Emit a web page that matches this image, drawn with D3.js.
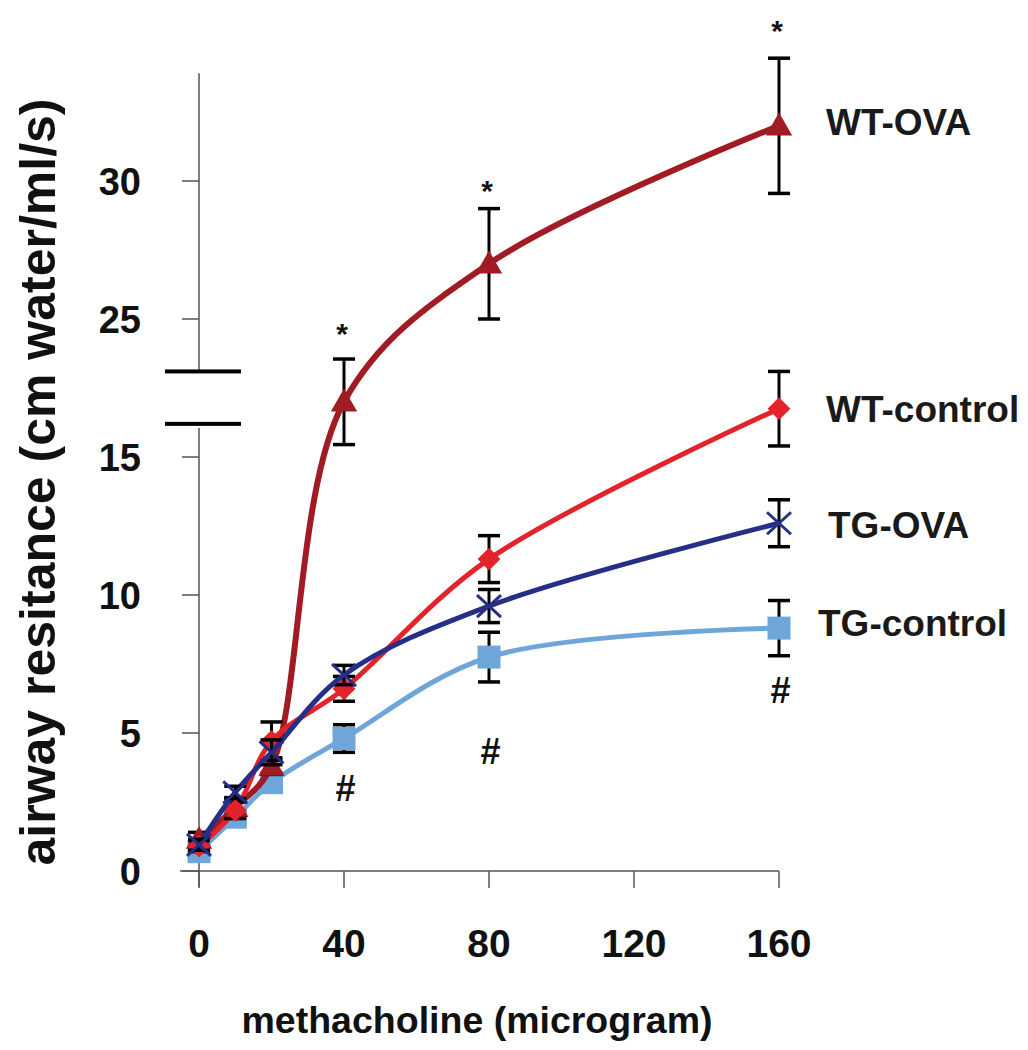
<!DOCTYPE html>
<html>
<head>
<meta charset="utf-8">
<script src="https://cdn.jsdelivr.net/npm/d3@7"></script>
<style>
  html, body { margin: 0; padding: 0; background: #fff; }
  svg { display: block; font-family: "Liberation Sans", Arial, Helvetica, sans-serif; }
</style>
</head>
<body>
<svg id="chart" width="1028" height="1050"></svg>
<script>
// ---- data ----
const doses = [0, 10, 20, 40, 80, 160];
const xTicks = [0, 40, 80, 120, 160];
// y-axis is broken: values above the break are drawn 5 units lower
const yTickValues = [0, 5, 10, 15, 25, 30];
const yTickLabels = ["0", "5", "10", "15", "25", "30"];
const breakGap = 5;          // units hidden by the axis break
const breakAt = 20;          // values at/above this sit above the break
const breakMarks = [16.2, 18.1]; // plotted-unit positions of the break bars

const seriesNames = ["TG-control", "WT-OVA", "WT-control", "TG-OVA"];
const tgControlMean = [0.7, 1.95, 3.2, 4.8, 7.75, 8.8];
const tgControlErr  = [0.15, 0.2, 0.2, 0.5, 0.9, 1.0];
const wtOvaMean     = [1.15, 2.3, 3.8, 22.0, 27.0, 32.0];
const wtOvaErr      = [0.25, 0.36, 0.3, 1.55, 2.0, 2.45];
const wtControlMean = [0.9, 2.2, 4.7, 6.6, 11.3, 16.75];
const wtControlErr  = [0.2, 0.3, 0.7, 0.45, 0.85, 1.35];
const tgOvaMean     = [0.95, 2.85, 4.3, 7.1, 9.6, 12.6];
const tgOvaErr      = [0.2, 0.22, 0.45, 0.35, 0.6, 0.85];

const starDoses = [40, 80, 160];
const starValues = [24.9, 30.1, 35.9];
const hashDoses = [40, 80, 160];
const hashValues = [3.0, 4.35, 6.55];

// ---- layout ----
const svg = d3.select("#chart");
const x = d3.scaleLinear().domain([0, 160]).range([199, 779]);
const y = d3.scaleLinear().domain([0, 25]).range([871, 181]); // plotted units
const plotted = v => (v >= breakAt ? v - breakGap : v);
const Y = v => y(plotted(v));

const colors = {
  "TG-control": "#6fa6da",
  "WT-OVA": "#a11b22",
  "WT-control": "#e3232b",
  "TG-OVA": "#262f86"
};
const widths = { "TG-control": 5, "WT-OVA": 6, "WT-control": 5, "TG-OVA": 5 };
const means = { "TG-control": tgControlMean, "WT-OVA": wtOvaMean, "WT-control": wtControlMean, "TG-OVA": tgOvaMean };
const errs = { "TG-control": tgControlErr, "WT-OVA": wtOvaErr, "WT-control": wtControlErr, "TG-OVA": tgOvaErr };

const axisColor = "#555";

// ---- y axis (broken) ----
const gy = svg.append("g");
const yTop = y(28.9);
gy.append("line").attr("x1", x(0)).attr("x2", x(0)).attr("y1", yTop).attr("y2", y(breakMarks[1]))
  .attr("stroke", axisColor).attr("stroke-width", 1.5);
gy.append("line").attr("x1", x(0)).attr("x2", x(0)).attr("y1", y(breakMarks[0]) + 4).attr("y2", y(0) + 16)
  .attr("stroke", axisColor).attr("stroke-width", 1.5);
gy.selectAll("line.tick").data(yTickValues).join("line")
  .attr("class", "tick")
  .attr("x1", x(0) - 17).attr("x2", x(0))
  .attr("y1", d => Y(d)).attr("y2", d => Y(d))
  .attr("stroke", axisColor).attr("stroke-width", 1.5);
gy.selectAll("text").data(yTickValues).join("text")
  .attr("x", 141).attr("y", d => Y(d))
  .attr("dy", "0.36em")
  .attr("text-anchor", "end")
  .attr("font-size", 38).attr("font-weight", "bold").attr("fill", "#111")
  .text((d, i) => yTickLabels[i]);
gy.selectAll("rect.brk").data(breakMarks).join("rect")
  .attr("class", "brk")
  .attr("x", x(0) - 34).attr("width", 76)
  .attr("y", d => y(d) - 2).attr("height", 4)
  .attr("fill", "#000");

// ---- x axis ----
const gx = svg.append("g");
gx.append("line").attr("x1", x(0) - 19).attr("x2", x(160)).attr("y1", y(0)).attr("y2", y(0))
  .attr("stroke", axisColor).attr("stroke-width", 1.5);
gx.selectAll("line.tick").data(xTicks).join("line")
  .attr("class", "tick")
  .attr("x1", d => x(d)).attr("x2", d => x(d))
  .attr("y1", y(0)).attr("y2", y(0) + 17)
  .attr("stroke", axisColor).attr("stroke-width", 1.5);
gx.selectAll("text").data(xTicks).join("text")
  .attr("x", d => x(d)).attr("y", 957)
  .attr("text-anchor", "middle")
  .attr("font-size", 39).attr("font-weight", "bold").attr("fill", "#111")
  .text(d => d);

// ---- titles ----
svg.append("text")
  .attr("x", 477).attr("y", 1033)
  .attr("text-anchor", "middle")
  .attr("font-size", 37.5).attr("font-weight", "bold").attr("fill", "#111")
  .text("methacholine (microgram)");
svg.append("text")
  .attr("transform", "translate(55,482) rotate(-90)")
  .attr("text-anchor", "middle")
  .attr("font-size", 50).attr("font-weight", "bold").attr("fill", "#111")
  .text("airway resitance (cm water/ml/s)");

// ---- series ----
const line = d3.line().curve(d3.curveCatmullRom.alpha(0.5))
  .x(d => x(d[0])).y(d => Y(d[1]));

const markerShapes = {
  "TG-control": d3.symbol(d3.symbolSquare, 529),
  "WT-OVA": d3.symbol(d3.symbolTriangle, 300),
  "WT-control": d3.symbol(d3.symbolSquare, 260)
};

seriesNames.forEach(name => {
  const pts = doses.map((d, i) => [d, means[name][i], errs[name][i]]);
  const g = svg.append("g");
  g.append("path").datum(pts).attr("d", line)
    .attr("fill", "none").attr("stroke", colors[name])
    .attr("stroke-width", widths[name]).attr("stroke-linejoin", "round");
  // error bars
  const eb = g.selectAll("g.eb").data(pts).join("g").attr("class", "eb");
  eb.append("line")
    .attr("x1", d => x(d[0])).attr("x2", d => x(d[0]))
    .attr("y1", d => y(plotted(d[1]) + d[2])).attr("y2", d => y(plotted(d[1]) - d[2]))
    .attr("stroke", "#000").attr("stroke-width", 3);
  [1, -1].forEach(s => {
    eb.append("line")
      .attr("x1", d => x(d[0]) - 11).attr("x2", d => x(d[0]) + 11)
      .attr("y1", d => y(plotted(d[1]) + s * d[2])).attr("y2", d => y(plotted(d[1]) + s * d[2]))
      .attr("stroke", "#000").attr("stroke-width", 3.5);
  });
  // markers
  if (name === "TG-OVA") {
    const m = g.selectAll("g.mk").data(pts).join("g").attr("class", "mk")
      .attr("transform", d => `translate(${x(d[0])},${Y(d[1])})`);
    [[-12, -11, 12, 11], [-12, 11, 12, -11]].forEach(c => {
      m.append("line").attr("x1", c[0]).attr("y1", c[1]).attr("x2", c[2]).attr("y2", c[3])
        .attr("stroke", colors[name]).attr("stroke-width", 3);
    });
  } else {
    g.selectAll("path.mk").data(pts).join("path").attr("class", "mk")
      .attr("d", markerShapes[name])
      .attr("transform", d => `translate(${x(d[0])},${Y(d[1])})` + (name === "WT-control" ? " rotate(45)" : "") + (name === "WT-OVA" ? " translate(0,2)" : ""))
      .attr("fill", colors[name]);
  }
});

// ---- annotations ----
svg.selectAll("text.star").data(starDoses).join("text").attr("class", "star")
  .attr("x", d => x(d) - 2).attr("y", (d, i) => Y(starValues[i]))
  .attr("dy", "0.75em")
  .attr("text-anchor", "middle").attr("font-size", 30).attr("font-weight", "bold").attr("fill", "#111")
  .text("*");
svg.selectAll("text.hash").data(hashDoses).join("text").attr("class", "hash")
  .attr("x", d => x(d) + 1).attr("y", (d, i) => Y(hashValues[i]))
  .attr("dy", "0.36em")
  .attr("text-anchor", "middle").attr("font-size", 36).attr("font-style", "italic").attr("font-weight", "bold").attr("fill", "#111")
  .text("#");

// ---- series labels ----
const labelNames = ["WT-OVA", "WT-control", "TG-OVA", "TG-control"];
const labelValues = [32.15, 16.75, 12.55, 9.0];
const labelX = [826, 826, 828, 818];
svg.selectAll("text.lab").data(labelNames).join("text").attr("class", "lab")
  .attr("x", (d, i) => labelX[i]).attr("y", (d, i) => Y(labelValues[i]))
  .attr("dy", "0.36em")
  .attr("font-size", 37).attr("font-weight", "bold").attr("fill", "#1a1a1a")
  .text(d => d);
</script>
</body>
</html>
